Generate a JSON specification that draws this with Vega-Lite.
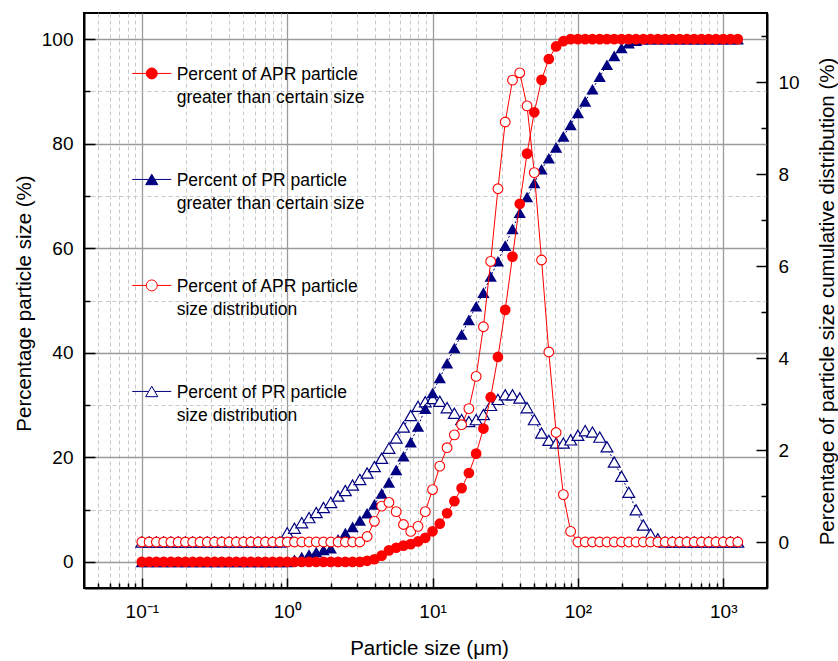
{
  "$schema": "https://vega.github.io/schema/vega-lite/v6.json",
  "width": 683,
  "height": 575,
  "autosize": {"type": "none"},
  "padding": {"left": 84, "top": 13, "right": 71, "bottom": 73},
  "background": "white",
  "config": {
    "font": "Liberation Sans",
    "view": {"stroke": "black", "strokeWidth": 2},
    "axis": {
      "labelFont": "Liberation Sans", "titleFont": "Liberation Sans",
      "labelColor": "black", "titleColor": "black", "titleFontWeight": "normal",
      "domainColor": "black", "domainWidth": 2, "tickColor": "black", "tickWidth": 1.5,
      "labelFontSize": 19, "titleFontSize": 20.5, "offset": 0
    },
    "style": {"guide-label": {"lineHeight": 23}}
  },
  "datasets": {
    "aprCum": [
      {"x":0.1,"y":0},{"x":0.1122,"y":0},{"x":0.1259,"y":0},{"x":0.1413,"y":0},{"x":0.1585,"y":0},{"x":0.1778,"y":0},{"x":0.1995,"y":0},{"x":0.2239,"y":0},{"x":0.2512,"y":0},{"x":0.2818,"y":0},{"x":0.3162,"y":0},{"x":0.3548,"y":0},{"x":0.3981,"y":0},{"x":0.4467,"y":0},{"x":0.5012,"y":0},{"x":0.5623,"y":0},{"x":0.631,"y":0},{"x":0.7079,"y":0},{"x":0.7943,"y":0},{"x":0.8913,"y":0},
      {"x":1,"y":0},{"x":1.122,"y":0},{"x":1.259,"y":0},{"x":1.413,"y":0},{"x":1.585,"y":0},{"x":1.778,"y":0},{"x":1.995,"y":0},{"x":2.239,"y":0},{"x":2.512,"y":0},{"x":2.818,"y":0},{"x":3.162,"y":0},{"x":3.548,"y":0.2},{"x":3.981,"y":0.5},{"x":4.467,"y":1.2},{"x":5.012,"y":2.2},{"x":5.623,"y":2.7},{"x":6.31,"y":3.1},{"x":7.079,"y":3.4},{"x":7.943,"y":3.9},{"x":8.913,"y":4.6},
      {"x":10,"y":5.85},{"x":11.22,"y":7.3},{"x":12.59,"y":9.3},{"x":14.13,"y":11.6},{"x":15.85,"y":14.1},{"x":17.78,"y":17.0},{"x":19.95,"y":20.7},{"x":22.39,"y":25.5},{"x":25.12,"y":31.5},{"x":28.18,"y":39.2},{"x":31.62,"y":48.2},{"x":35.48,"y":58.4},{"x":39.81,"y":68.5},{"x":44.67,"y":78.1},{"x":50.12,"y":86.0},{"x":56.23,"y":92.2},{"x":63.1,"y":96.2},{"x":70.79,"y":98.6},{"x":79.43,"y":99.6},{"x":89.13,"y":100},
      {"x":100,"y":100},{"x":112.2,"y":100},{"x":125.9,"y":100},{"x":141.3,"y":100},{"x":158.5,"y":100},{"x":177.8,"y":100},{"x":199.5,"y":100},{"x":223.9,"y":100},{"x":251.2,"y":100},{"x":281.8,"y":100},{"x":316.2,"y":100},{"x":354.8,"y":100},{"x":398.1,"y":100},{"x":446.7,"y":100},{"x":501.2,"y":100},{"x":562.3,"y":100},{"x":631,"y":100},{"x":707.9,"y":100},{"x":794.3,"y":100},{"x":891.3,"y":100},
      {"x":1000,"y":100},{"x":1122,"y":100},{"x":1259,"y":100}
    ],
    "prCum": [
      {"x":0.1,"y":0},{"x":0.1122,"y":0},{"x":0.1259,"y":0},{"x":0.1413,"y":0},{"x":0.1585,"y":0},{"x":0.1778,"y":0},{"x":0.1995,"y":0},{"x":0.2239,"y":0},{"x":0.2512,"y":0},{"x":0.2818,"y":0},{"x":0.3162,"y":0},{"x":0.3548,"y":0},{"x":0.3981,"y":0},{"x":0.4467,"y":0},{"x":0.5012,"y":0},{"x":0.5623,"y":0},{"x":0.631,"y":0},{"x":0.7079,"y":0},{"x":0.7943,"y":0},{"x":0.8913,"y":0},
      {"x":1,"y":0},{"x":1.122,"y":0.4},{"x":1.259,"y":0.9},{"x":1.413,"y":1.4},{"x":1.585,"y":1.9},{"x":1.778,"y":2.3},{"x":1.995,"y":2.6},{"x":2.239,"y":4.3},{"x":2.512,"y":5.5},{"x":2.818,"y":6.7},{"x":3.162,"y":7.9},{"x":3.548,"y":9.3},{"x":3.981,"y":11.0},{"x":4.467,"y":13.1},{"x":5.012,"y":15.2},{"x":5.623,"y":17.6},{"x":6.31,"y":20.2},{"x":7.079,"y":22.9},{"x":7.943,"y":25.9},{"x":8.913,"y":29.3},
      {"x":10,"y":32.3},{"x":11.22,"y":35.2},{"x":12.59,"y":38.0},{"x":14.13,"y":40.9},{"x":15.85,"y":43.5},{"x":17.78,"y":46.3},{"x":19.95,"y":48.9},{"x":22.39,"y":51.5},{"x":25.12,"y":54.6},{"x":28.18,"y":57.5},{"x":31.62,"y":60.5},{"x":35.48,"y":63.7},{"x":39.81,"y":66.8},{"x":44.67,"y":69.8},{"x":50.12,"y":72.5},{"x":56.23,"y":75.1},{"x":63.1,"y":77.2},{"x":70.79,"y":79.3},{"x":79.43,"y":81.4},{"x":89.13,"y":83.6},
      {"x":100,"y":85.9},{"x":112.2,"y":88.1},{"x":125.9,"y":90.4},{"x":141.3,"y":92.8},{"x":158.5,"y":95.1},{"x":177.8,"y":96.8},{"x":199.5,"y":98.3},{"x":223.9,"y":99.2},{"x":251.2,"y":99.7},{"x":281.8,"y":100},{"x":316.2,"y":100},{"x":354.8,"y":100},{"x":398.1,"y":100},{"x":446.7,"y":100},{"x":501.2,"y":100},{"x":562.3,"y":100},{"x":631,"y":100},{"x":707.9,"y":100},{"x":794.3,"y":100},{"x":891.3,"y":100},
      {"x":1000,"y":100},{"x":1122,"y":100},{"x":1259,"y":100}
    ],
    "aprDist": [
      {"x":0.1,"y":0},{"x":0.1122,"y":0},{"x":0.1259,"y":0},{"x":0.1413,"y":0},{"x":0.1585,"y":0},{"x":0.1778,"y":0},{"x":0.1995,"y":0},{"x":0.2239,"y":0},{"x":0.2512,"y":0},{"x":0.2818,"y":0},{"x":0.3162,"y":0},{"x":0.3548,"y":0},{"x":0.3981,"y":0},{"x":0.4467,"y":0},{"x":0.5012,"y":0},{"x":0.5623,"y":0},{"x":0.631,"y":0},{"x":0.7079,"y":0},{"x":0.7943,"y":0},{"x":0.8913,"y":0},
      {"x":1,"y":0},{"x":1.122,"y":0},{"x":1.259,"y":0},{"x":1.413,"y":0},{"x":1.585,"y":0},{"x":1.778,"y":0},{"x":1.995,"y":0},{"x":2.239,"y":0},{"x":2.512,"y":0},{"x":2.818,"y":0},{"x":3.162,"y":0},{"x":3.548,"y":0.12},{"x":3.981,"y":0.45},{"x":4.467,"y":0.78},{"x":5.012,"y":0.86},{"x":5.623,"y":0.66},{"x":6.31,"y":0.38},{"x":7.079,"y":0.23},{"x":7.943,"y":0.34},{"x":8.913,"y":0.66},
      {"x":10,"y":1.14},{"x":11.22,"y":1.65},{"x":12.59,"y":2.05},{"x":14.13,"y":2.33},{"x":15.85,"y":2.55},{"x":17.78,"y":2.9},{"x":19.95,"y":3.6},{"x":22.39,"y":4.68},{"x":25.12,"y":6.1},{"x":28.18,"y":7.68},{"x":31.62,"y":9.13},{"x":35.48,"y":10.04},{"x":39.81,"y":10.2},{"x":44.67,"y":9.48},{"x":50.12,"y":8.03},{"x":56.23,"y":6.13},{"x":63.1,"y":4.13},{"x":70.79,"y":2.38},{"x":79.43,"y":1.03},{"x":89.13,"y":0.23},
      {"x":100,"y":0},{"x":112.2,"y":0},{"x":125.9,"y":0},{"x":141.3,"y":0},{"x":158.5,"y":0},{"x":177.8,"y":0},{"x":199.5,"y":0},{"x":223.9,"y":0},{"x":251.2,"y":0},{"x":281.8,"y":0},{"x":316.2,"y":0},{"x":354.8,"y":0},{"x":398.1,"y":0},{"x":446.7,"y":0},{"x":501.2,"y":0},{"x":562.3,"y":0},{"x":631,"y":0},{"x":707.9,"y":0},{"x":794.3,"y":0},{"x":891.3,"y":0},
      {"x":1000,"y":0},{"x":1122,"y":0},{"x":1259,"y":0}
    ],
    "prDist": [
      {"x":0.1,"y":0},{"x":0.1122,"y":0},{"x":0.1259,"y":0},{"x":0.1413,"y":0},{"x":0.1585,"y":0},{"x":0.1778,"y":0},{"x":0.1995,"y":0},{"x":0.2239,"y":0},{"x":0.2512,"y":0},{"x":0.2818,"y":0},{"x":0.3162,"y":0},{"x":0.3548,"y":0},{"x":0.3981,"y":0},{"x":0.4467,"y":0},{"x":0.5012,"y":0},{"x":0.5623,"y":0},{"x":0.631,"y":0},{"x":0.7079,"y":0},{"x":0.7943,"y":0},{"x":0.8913,"y":0},
      {"x":1,"y":0.2},{"x":1.122,"y":0.3},{"x":1.259,"y":0.42},{"x":1.413,"y":0.53},{"x":1.585,"y":0.64},{"x":1.778,"y":0.75},{"x":1.995,"y":0.86},{"x":2.239,"y":1.0},{"x":2.512,"y":1.12},{"x":2.818,"y":1.24},{"x":3.162,"y":1.36},{"x":3.548,"y":1.5},{"x":3.981,"y":1.64},{"x":4.467,"y":1.82},{"x":5.012,"y":2.04},{"x":5.623,"y":2.26},{"x":6.31,"y":2.5},{"x":7.079,"y":2.75},{"x":7.943,"y":2.95},{"x":8.913,"y":3.05},
      {"x":10,"y":3.12},{"x":11.22,"y":3.06},{"x":12.59,"y":2.92},{"x":14.13,"y":2.8},{"x":15.85,"y":2.66},{"x":17.78,"y":2.62},{"x":19.95,"y":2.66},{"x":22.39,"y":2.77},{"x":25.12,"y":2.97},{"x":28.18,"y":3.1},{"x":31.62,"y":3.2},{"x":35.48,"y":3.2},{"x":39.81,"y":3.13},{"x":44.67,"y":2.92},{"x":50.12,"y":2.66},{"x":56.23,"y":2.37},{"x":63.1,"y":2.21},{"x":70.79,"y":2.15},{"x":79.43,"y":2.15},{"x":89.13,"y":2.22},
      {"x":100,"y":2.32},{"x":112.2,"y":2.42},{"x":125.9,"y":2.39},{"x":141.3,"y":2.28},{"x":158.5,"y":2.07},{"x":177.8,"y":1.74},{"x":199.5,"y":1.43},{"x":223.9,"y":1.08},{"x":251.2,"y":0.7},{"x":281.8,"y":0.37},{"x":316.2,"y":0.17},{"x":354.8,"y":0.07},{"x":398.1,"y":0},{"x":446.7,"y":0},{"x":501.2,"y":0},{"x":562.3,"y":0},{"x":631,"y":0},{"x":707.9,"y":0},{"x":794.3,"y":0},{"x":891.3,"y":0},
      {"x":1000,"y":0},{"x":1122,"y":0},{"x":1259,"y":0}
    ],
    "legendSeries": [
      {"series": "Percent of APR particle|greater than certain size"},
      {"series": "Percent of PR particle|greater than certain size"},
      {"series": "Percent of APR particle|size distribution"},
      {"series": "Percent of PR particle|size distribution"}
    ]
  },
  "encoding": {
    "x": {
      "field": "x", "type": "quantitative",
      "scale": {"type": "log", "domain": [0.04, 2000], "nice": false},
      "axis": {
        "title": "Particle size (μm)",
        "values": [0.05,0.06,0.07,0.08,0.09,0.1,0.2,0.3,0.4,0.5,0.6,0.7,0.8,0.9,1,2,3,4,5,6,7,8,9,10,20,30,40,50,60,70,80,90,100,200,300,400,500,600,700,800,900,1000],
        "labelExpr": "datum.value == 0.1 ? '10⁻¹' : datum.value == 1 ? '10⁰' : datum.value == 10 ? '10¹' : datum.value == 100 ? '10²' : datum.value == 1000 ? '10³' : ''",
        "labelOverlap": false, "labelFlush": false, "labelBound": false,
        "tickSize": {"condition": {"test": "abs(log(datum.value)/LN10 - round(log(datum.value)/LN10)) < 0.001", "value": -10}, "value": -5},
        "labelPadding": 24,
        "grid": true,
        "gridColor": {"condition": {"test": "abs(log(datum.value)/LN10 - round(log(datum.value)/LN10)) < 0.001", "value": "#9a9a9a"}, "value": "#c8c8c8"},
        "gridDash": {"condition": {"test": "abs(log(datum.value)/LN10 - round(log(datum.value)/LN10)) < 0.001", "value": []}, "value": [4, 3]},
        "gridWidth": {"condition": {"test": "abs(log(datum.value)/LN10 - round(log(datum.value)/LN10)) < 0.001", "value": 1.3}, "value": 1},
        "titleX": 345, "titleY": 60, "titleBaseline": "middle", "titleAlign": "center"
      }
    }
  },
  "layer": [
    {
      "data": {"name": "prDist"},
      "encoding": {
        "y": {
          "field": "y", "type": "quantitative",
          "scale": {"domain": [-1, 11.5], "nice": false, "zero": false},
          "axis": {
            "orient": "right",
            "title": "Percentage of particle size cumulative distribution (%)",
            "values": [0,1,2,3,4,5,6,7,8,9,10,11],
            "labelExpr": "datum.value % 2 == 0 ? datum.label : ''",
            "labelOverlap": false, "labelBound": false, "labelFlush": false,
            "tickSize": {"condition": {"test": "datum.value % 2 == 0", "value": -11}, "value": -6},
            "labelPadding": 22,
            "grid": false,
            "titleAngle": 270, "titleX": 60, "titleY": 288, "titleBaseline": "middle", "titleAlign": "center"
          }
        }
      },
      "layer": [
        {"mark": {"type": "line", "color": "#000080", "strokeWidth": 1, "strokeDash": [2, 2]}},
        {"mark": {"type": "point", "shape": "triangle-up", "filled": true, "fill": "white", "stroke": "#000080", "strokeWidth": 1.2, "size": 140, "opacity": 1}}
      ]
    },
    {
      "data": {"name": "prCum"},
      "encoding": {
        "y": {
          "field": "y", "type": "quantitative",
          "scale": {"domain": [-5, 105], "nice": false, "zero": false},
          "axis": {
            "orient": "left",
            "title": "Percentage particle size (%)",
            "values": [0,10,20,30,40,50,60,70,80,90,100],
            "labelExpr": "datum.value % 20 == 0 ? datum.label : ''",
            "labelOverlap": false, "labelBound": false, "labelFlush": false,
            "tickSize": {"condition": {"test": "datum.value % 20 == 0", "value": -11}, "value": -6},
            "labelPadding": 22,
            "grid": true,
            "gridColor": {"condition": {"test": "datum.value % 20 == 0", "value": "#9a9a9a"}, "value": "#c8c8c8"},
            "gridDash": {"condition": {"test": "datum.value % 20 == 0", "value": []}, "value": [4, 3]},
            "gridWidth": {"condition": {"test": "datum.value % 20 == 0", "value": 1.3}, "value": 1},
            "titleAngle": 270, "titleX": -60, "titleY": 290, "titleBaseline": "middle", "titleAlign": "center"
          }
        }
      },
      "layer": [
        {"mark": {"type": "line", "color": "#000080", "strokeWidth": 1, "strokeDash": [2, 2]}},
        {"mark": {"type": "point", "shape": "triangle-up", "filled": true, "color": "#000080", "size": 150, "opacity": 1}}
      ]
    },
    {
      "data": {"name": "aprDist"},
      "encoding": {
        "y": {"field": "y", "type": "quantitative", "scale": {"domain": [-1, 11.5], "nice": false, "zero": false}, "axis": null}
      },
      "layer": [
        {"mark": {"type": "line", "color": "#ff0000", "strokeWidth": 1}},
        {"mark": {"type": "point", "shape": "circle", "filled": true, "fill": "white", "stroke": "#ff0000", "strokeWidth": 1.1, "size": 95, "opacity": 1}}
      ]
    },
    {
      "data": {"name": "aprCum"},
      "encoding": {
        "y": {"field": "y", "type": "quantitative", "scale": {"domain": [-5, 105], "nice": false, "zero": false}, "axis": null}
      },
      "layer": [
        {"mark": {"type": "line", "color": "#ff0000", "strokeWidth": 1}},
        {"mark": {"type": "point", "shape": "circle", "filled": true, "color": "#ff0000", "size": 115, "opacity": 1}}
      ]
    },
    {
      "data": {"name": "legendSeries"},
      "transform": [{"filter": "false"}],
      "mark": {"type": "point", "filled": true, "size": 121, "opacity": 1, "strokeWidth": 1},
      "encoding": {
        "x": {"value": 0},
        "shape": {
          "field": "series", "type": "nominal",
          "scale": {
            "domain": ["Percent of APR particle|greater than certain size", "Percent of PR particle|greater than certain size", "Percent of APR particle|size distribution", "Percent of PR particle|size distribution"],
            "range": [
              "M-3.55,1.4L-1,1.4A1,1,0,0,0,1,1.4L3.55,1.4M1,1.4A1,1,0,0,0,-1,1.4",
              "M-3.55,1.4L-0.55,1.4L0,0.45L0.55,1.4L3.55,1.4M0.55,1.4L1.1,2.35L-1.1,2.35L-0.55,1.4",
              "M-3.55,1.4L-1,1.4A1,1,0,0,0,1,1.4L3.55,1.4M1,1.4A1,1,0,0,0,-1,1.4",
              "M-3.55,1.4L-0.55,1.4L0,0.45L0.55,1.4L3.55,1.4M0.55,1.4L1.1,2.35L-1.1,2.35L-0.55,1.4"
            ]
          },
          "legend": {
            "title": null, "orient": "none", "legendX": 59, "legendY": 44, "direction": "vertical",
            "labelExpr": "split(datum.label, '|')",
            "labelFont": "Liberation Sans", "labelFontSize": 17.5, "labelColor": "black", "labelBaseline": "top",
            "labelLimit": 0, "labelOffset": 16.2, "rowPadding": 56, "padding": 0,
            "symbolSize": 121, "symbolStrokeWidth": 1, "symbolOpacity": 1
          }
        },
        "fill": {
          "field": "series", "type": "nominal",
          "scale": {
            "domain": ["Percent of APR particle|greater than certain size", "Percent of PR particle|greater than certain size", "Percent of APR particle|size distribution", "Percent of PR particle|size distribution"],
            "range": ["#ff0000", "#000080", "#ffffff", "#ffffff"]
          }
        },
        "stroke": {
          "field": "series", "type": "nominal",
          "scale": {
            "domain": ["Percent of APR particle|greater than certain size", "Percent of PR particle|greater than certain size", "Percent of APR particle|size distribution", "Percent of PR particle|size distribution"],
            "range": ["#ff0000", "#000080", "#ff0000", "#000080"]
          }
        }
      }
    }
  ],
  "resolve": {"scale": {"y": "independent"}, "axis": {"y": "independent"}}
}
